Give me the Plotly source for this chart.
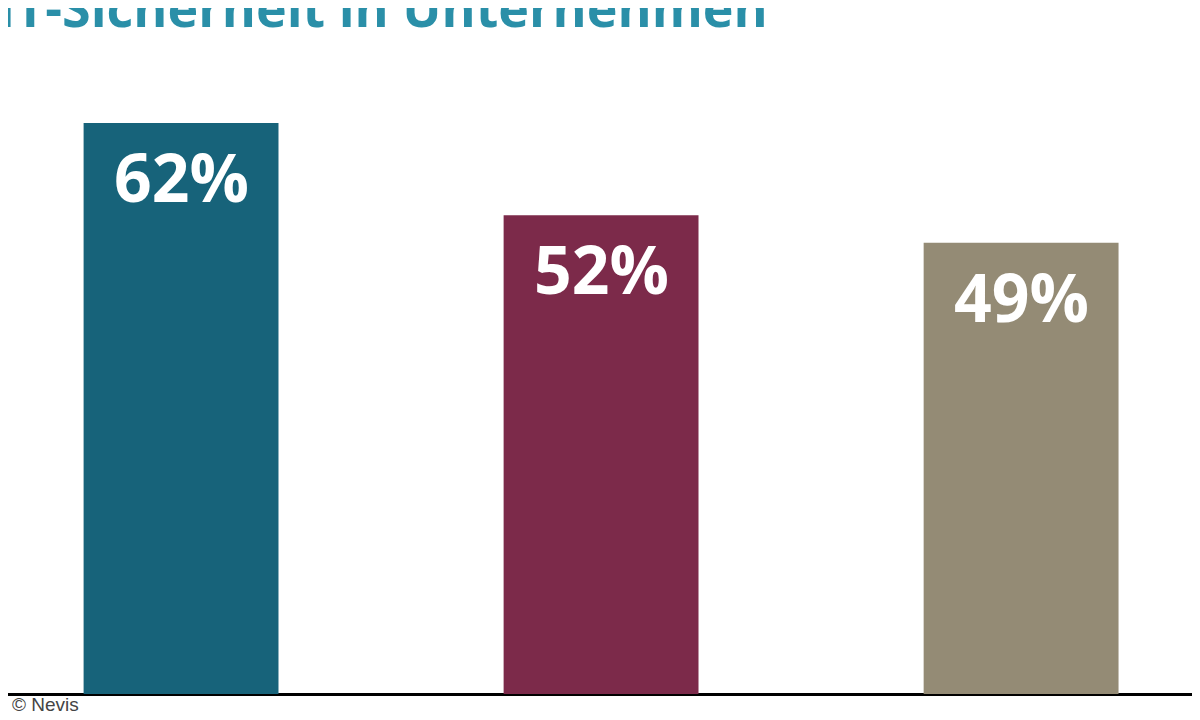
import plotly.graph_objects as go

categories = ["A", "B", "C"]
values = [62, 52, 49]
labels = ["62%", "52%", "49%"]
colors = ["#17637a", "#7c2a4a", "#948b75"]

fig = go.Figure(go.Bar(x=[0, 1, 2], y=values, marker_color=colors, width=0.464,
                       marker_line_width=0, hoverinfo="skip"))
for i, (v, t) in enumerate(zip(values, labels)):
    fig.add_annotation(x=i, y=v, text=t, showarrow=False, yanchor="top", yshift=-6,
                       font=dict(family="Open Sans", size=66, color="white", weight="bold"))
fig.add_annotation(xref="paper", yref="paper", x=0, y=1.0, xanchor="left", yanchor="middle",
                   xshift=-12, yshift=2, text="IT-Sicherheit in Unternehmen", showarrow=False,
                   font=dict(family="Open Sans", size=52, color="#2a8fa8", weight="bold"))
fig.add_annotation(xref="paper", yref="paper", x=0, y=0, xanchor="left", yanchor="top",
                   xshift=2, yshift=2, text="© Nevis", showarrow=False,
                   font=dict(family="Liberation Sans", size=19, color="#444"))
fig.update_layout(width=1200, height=720, margin=dict(l=0, r=0, t=0, b=34),
                  plot_bgcolor="white", paper_bgcolor="white", showlegend=False,
                  xaxis=dict(range=[-0.412, 2.445], showticklabels=False, showgrid=False,
                             zeroline=False, showline=False),
                  yaxis=dict(range=[0, 74.5], showticklabels=False, showgrid=False,
                             zeroline=True, zerolinecolor="black", zerolinewidth=3, showline=False))
fig.write_html("out.html")
